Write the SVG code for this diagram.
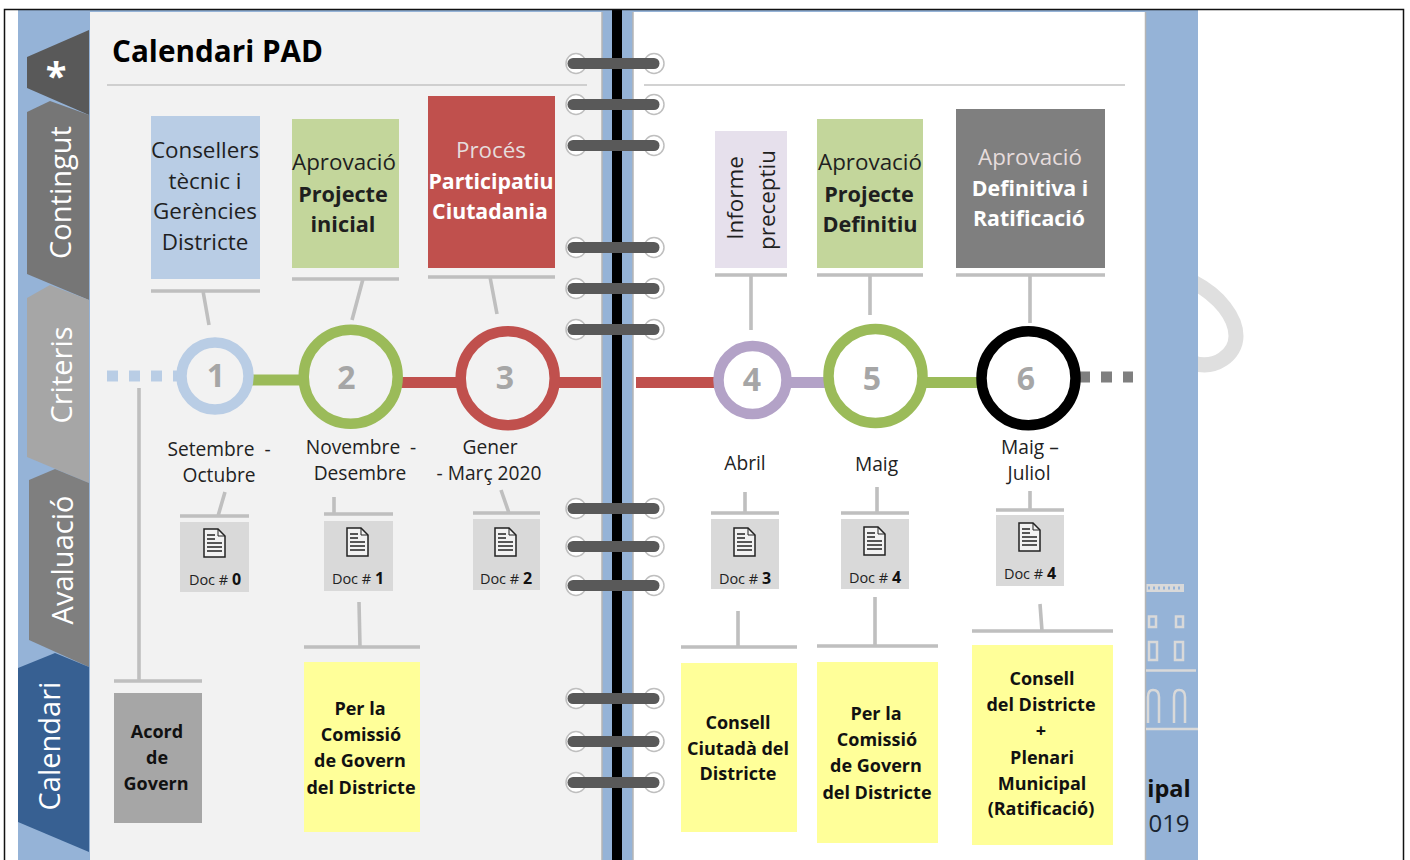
<svg xmlns="http://www.w3.org/2000/svg" width="1410" height="860" viewBox="0 0 1410 860">
<style>
text{font-family:"Open Sans","Noto Sans","DejaVu Sans",sans-serif;text-anchor:middle;white-space:pre}
.l{font-size:22.4px;fill:#1f1f1f}
.b{font-size:21.7px;font-weight:700;fill:#1f1f1f}
.w{font-size:22.4px;fill:#e6dcdc}
.wb{font-size:21.3px;font-weight:700;fill:#fff}
.m{font-size:19.2px;fill:#222}
.y{font-size:18px;font-weight:700;fill:#111}
.d{font-size:14.5px;fill:#222}
.dn{font-size:16px;font-weight:700;fill:#111}
.tab{font-size:29px;fill:#fff}
.n{font-size:32px;font-weight:700;fill:#a6a6a6}
.bar{stroke:#bfbfbf;stroke-width:3.600;fill:none}
.ring{fill:#fff;stroke:#bfbfbf;stroke-width:1.500}
.coil{stroke:#595959;stroke-width:11;stroke-linecap:round;fill:none}
.tl{stroke-width:11;fill:none}
.c{stroke-width:10.500}
.cl{fill:#f2f2f2}
.cr{fill:#fff}
.ic{fill:none;stroke:#d9d9d9;stroke-width:2.500}
</style>
<defs>
<g id="doc"><path d="M0 0H14L21 7V28H0Z" fill="#f2f2f2" stroke="#222" stroke-width="1.500"/><path d="M14 0V7H21" fill="none" stroke="#222"/><path d="M3 6H11M3 10H11M3 14H18M3 18H18M3 22H18" stroke="#222" stroke-width="1.500" fill="none"/></g>
<g id="coil"><circle cx="576" cy="0" r="10" class="ring"/><circle cx="654" cy="0" r="10" class="ring"/><path d="M573 0H654" class="coil"/></g>
</defs>
<rect width="1410" height="860" fill="#fff"/>
<g id="frame">
<path d="M1193 282C1220 296 1236 318 1236 336C1236 355 1215 370 1193 363" fill="none" stroke="#dfdfdf" stroke-width="15"/>
<rect x="18" y="10" width="1180" height="850" fill="#95b3d7"/>
<rect x="90" y="12" width="512" height="848" fill="#f2f2f2"/>
<rect x="633" y="12" width="512" height="848" fill="#fff"/>
<path d="M602 12V860M633 12V860M1145.500 12V860" stroke="#b5b5b5" stroke-width="1.500" fill="none"/>
<rect x="612" y="9" width="10" height="851" fill="#000"/>
<path d="M4.500 860V9.500H1403.500V860" fill="none" stroke="#111" stroke-width="1.500"/>
<path d="M107 85H587M644 85H1125" stroke="#c4c4c4" stroke-width="1.500" fill="none"/>
<text x="217.500" y="62" font-size="31" font-weight="700" fill="#000" textLength="211" lengthAdjust="spacingAndGlyphs">Calendari PAD</text>
</g>
<g id="tabs">
<g id="tab-star"><path d="M27 57L89 30V115L27 88Z" fill="#595959"/><text x="56" y="90" font-size="38" font-weight="700" fill="#fff">*</text></g>
<g id="tab-contingut"><path d="M27 112L50 101L89 115V300L27 274Z" fill="#767676"/><text class="tab" transform="translate(71 192.500) rotate(-90)">Contingut</text></g>
<g id="tab-criteris"><path d="M27 298L50 285L89 300V483L27 457Z" fill="#a6a6a6"/><text class="tab" transform="translate(72 375) rotate(-90)">Criteris</text></g>
<g id="tab-avaluacio"><path d="M29 480L55 469L89 483V667L29 640Z" fill="#7f7f7f"/><text class="tab" transform="translate(73 560) rotate(-90)">Avaluació</text></g>
<g id="tab-calendari"><path d="M18 668L55 653L89 667V852L18 822Z" fill="#376092"/><text class="tab" transform="translate(60 746) rotate(-90)">Calendari</text></g>
</g>
<g id="binding">
<use href="#coil" y="63.500"/><use href="#coil" y="104.500"/><use href="#coil" y="145.500"/><use href="#coil" y="247.500"/><use href="#coil" y="288.500"/><use href="#coil" y="329.500"/><use href="#coil" y="508.500"/><use href="#coil" y="546.500"/><use href="#coil" y="585.500"/><use href="#coil" y="698.500"/><use href="#coil" y="741.500"/><use href="#coil" y="782.500"/>
</g>
<g id="connectors">
<path class="tl" stroke="#b9cde5" stroke-dasharray="11 11" stroke-width="10" d="M107 376H178"/>
<path class="tl" stroke="#7f7f7f" stroke-dasharray="11 11" stroke-width="10" d="M1079 377H1133"/>
<path class="tl" stroke="#9bbb59" d="M250 380H302M925 382.500H980"/>
<path class="tl" stroke="#c0504d" d="M400 382.500H460M556 382.500H601M636 382.500H716"/>
<path class="tl" stroke="#b3a2c7" d="M790 382.500H829"/>
<path class="bar" d="M151 291H260M203 291L209 325M292 279H399M363 279L352 320M428 277H555M490 277L497 314M715 275H787M751 275V330M817 275H923M870 275V315M956 275H1105M1030 275V323"/>
<path class="bar" d="M114 681H202M139 388V681"/>
<path class="bar" d="M180 516H249M225 492L218 516M324 514H393M334 497V514M473 513H540M501 490L509 513M711 513H779M745 492V513M841 513H909M877 487V513M996 510H1064M1030 491V510"/>
<path class="bar" d="M304 647H420M359 602L360 647M681 647H797M738 611V647M817 646H938M875 597V646M972 631H1113M1040 604L1042 631"/>
</g>
<g id="n1"><rect x="151" y="116" width="109" height="163" fill="#b9cde5"/><text class="l" x="205" y="158">Consellers</text><text class="l" x="205" y="189">tècnic i</text><text class="l" x="205" y="219">Gerències</text><text class="l" x="205" y="250">Districte</text></g>
<g id="n2"><rect x="292" y="119" width="107" height="149" fill="#c3d69b"/><text class="l" x="344" y="170">Aprovació</text><text class="b" x="343" y="202">Projecte</text><text class="b" x="343" y="232">inicial</text></g>
<g id="n3"><rect x="428" y="96" width="127" height="172" fill="#c0504d"/><text class="w" x="491" y="158">Procés</text><text class="wb" x="491" y="189">Participatiu</text><text class="wb" x="490" y="219">Ciutadania</text></g>
<g id="n4"><rect x="715" y="131" width="72" height="137" fill="#e6e0ec"/><text class="l" transform="translate(743 198) rotate(-90)">Informe</text><text class="l" transform="translate(775 200) rotate(-90)">preceptiu</text></g>
<g id="n5"><rect x="817" y="119" width="106" height="149" fill="#c3d69b"/><text class="l" x="870" y="170">Aprovació</text><text class="b" x="869" y="202">Projecte</text><text class="b" x="870" y="232">Definitiu</text></g>
<g id="n6"><rect x="956" y="109" width="149" height="159" fill="#7f7f7f"/><text class="w" x="1030" y="165">Aprovació</text><text class="wb" x="1030" y="196">Definitiva i</text><text class="wb" x="1029" y="226">Ratificació</text></g>
<g id="c1"><circle class="c cl" cx="215" cy="376" r="33.500" stroke="#b9cde5"/><text class="n" x="216" y="387">1</text></g>
<g id="c2"><circle class="c cl" cx="350.700" cy="376.700" r="47" stroke="#9bbb59"/><text class="n" x="346.500" y="389">2</text></g>
<g id="c3"><circle class="c cl" cx="507.700" cy="378.300" r="47" stroke="#c0504d"/><text class="n" x="505" y="389">3</text></g>
<g id="c4"><circle class="c cr" cx="752.500" cy="380" r="34" stroke="#b3a2c7"/><text class="n" x="752" y="391">4</text></g>
<g id="c5"><circle class="c cr" cx="875.500" cy="376" r="47" stroke="#9bbb59"/><text class="n" x="872" y="390">5</text></g>
<g id="c6"><circle class="c cr" cx="1028.500" cy="378.300" r="47" stroke="#000"/><text class="n" x="1026" y="390">6</text></g>
<g id="dates">
<text class="m" x="219" y="456">Setembre  -</text><text class="m" x="219" y="482">Octubre</text>
<text class="m" x="361" y="454">Novembre  -</text><text class="m" x="360" y="480">Desembre</text>
<text class="m" x="490" y="454">Gener</text><text class="m" x="489" y="480">- Març 2020</text>
<text class="m" x="745" y="470">Abril</text><text class="m" x="876.500" y="471">Maig</text>
<text class="m" x="1030" y="454">Maig –</text><text class="m" x="1029" y="480">Juliol</text>
</g>
<g id="doc0"><rect x="180" y="522" width="69" height="70" fill="#d9d9d9"/><use href="#doc" x="204" y="529"/><text x="215" y="585"><tspan class="d">Doc # </tspan><tspan class="dn">0</tspan></text></g>
<g id="doc1"><rect x="324" y="521" width="69" height="70" fill="#d9d9d9"/><use href="#doc" x="347" y="528"/><text x="358" y="584"><tspan class="d">Doc # </tspan><tspan class="dn">1</tspan></text></g>
<g id="doc2"><rect x="473" y="519" width="67" height="71" fill="#d9d9d9"/><use href="#doc" x="495" y="528"/><text x="506" y="584"><tspan class="d">Doc # </tspan><tspan class="dn">2</tspan></text></g>
<g id="doc3"><rect x="711" y="519" width="68" height="70" fill="#d9d9d9"/><use href="#doc" x="734" y="528"/><text x="745" y="584"><tspan class="d">Doc # </tspan><tspan class="dn">3</tspan></text></g>
<g id="doc4"><rect x="841" y="519" width="68" height="70" fill="#d9d9d9"/><use href="#doc" x="864" y="527"/><text x="875" y="583"><tspan class="d">Doc # </tspan><tspan class="dn">4</tspan></text></g>
<g id="doc5"><rect x="996" y="515" width="68" height="71" fill="#d9d9d9"/><use href="#doc" x="1019" y="523"/><text x="1030" y="579"><tspan class="d">Doc # </tspan><tspan class="dn">4</tspan></text></g>
<g id="a0"><rect x="114" y="693" width="88" height="130" fill="#a6a6a6"/><text class="y" x="157" y="738">Acord</text><text class="y" x="157" y="764">de</text><text class="y" x="156" y="790">Govern</text></g>
<g id="y1"><rect x="304" y="662" width="116" height="170" fill="#ffff99"/><text class="y" x="360" y="715">Per la</text><text class="y" x="361" y="741">Comissió</text><text class="y" x="360" y="767">de Govern</text><text class="y" x="361" y="794">del Districte</text></g>
<g id="y2"><rect x="681" y="663" width="116" height="169" fill="#ffff99"/><text class="y" x="738" y="729">Consell</text><text class="y" x="738" y="755">Ciutadà del</text><text class="y" x="738" y="780">Districte</text></g>
<g id="y3"><rect x="817" y="662" width="121" height="181" fill="#ffff99"/><text class="y" x="876" y="720">Per la</text><text class="y" x="877" y="746">Comissió</text><text class="y" x="876" y="772">de Govern</text><text class="y" x="877" y="799">del Districte</text></g>
<g id="y4"><rect x="972" y="645" width="141" height="200" fill="#ffff99"/><text class="y" x="1042" y="685">Consell</text><text class="y" x="1041" y="711">del Districte</text><text class="y" x="1041" y="737">+</text><text class="y" x="1042" y="764">Plenari</text><text class="y" x="1042" y="790">Municipal</text><text class="y" x="1041" y="815">(Ratificació)</text></g>
<g id="building">
<rect x="1146.500" y="584" width="37.500" height="8" fill="#d9d9d9"/>
<path d="M1148 588H1183" stroke="#95b3d7" stroke-width="3" stroke-dasharray="2 3" fill="none"/>
<rect class="ic" x="1149" y="616.500" width="7" height="10.500"/><rect class="ic" x="1176" y="616.500" width="7" height="10.500"/>
<rect class="ic" x="1149" y="642" width="8" height="18"/><rect class="ic" x="1175" y="642" width="8" height="18"/>
<path class="ic" d="M1146 670.500H1196M1146 729H1198M1148 723V697Q1148 690 1153 690Q1159 690 1159 697V723M1174 723V697Q1174 690 1179 690Q1185 690 1185 697V723"/>
<text x="1169" y="797" font-size="23.500" font-weight="700" fill="#111">ipal</text>
<text x="1169" y="832" font-size="24" fill="#1a2530">019</text>
</g>
</svg>
